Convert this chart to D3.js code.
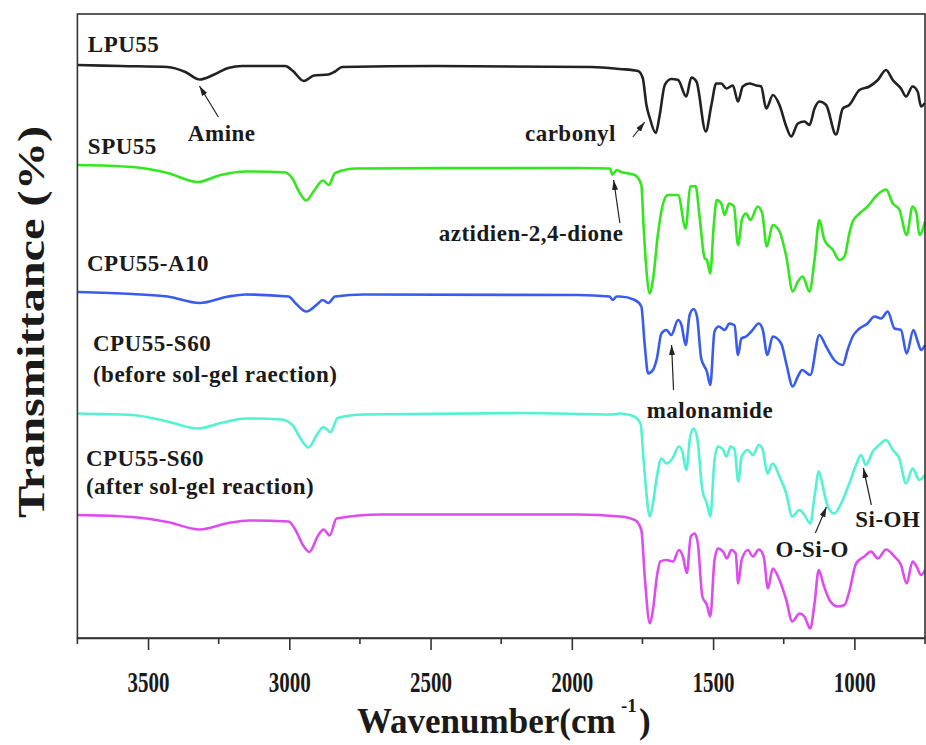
<!DOCTYPE html>
<html>
<head>
<meta charset="utf-8">
<script src="https://cdn.jsdelivr.net/npm/d3@7"></script>
<style>
  body { margin: 0; background: #fff; }
  svg { display: block; }
  text { font-family: "Liberation Serif", "Times New Roman", serif; font-weight: bold; fill: #1a1a1a; }
</style>
</head>
<body>
<svg id="chart" width="926" height="745"></svg>
<script>
// spectra: [wavenumber (cm-1), transmittance (offset, a.u.)]
const lpu55 = [
  [3750,114.6],[3594,114.4],[3431,114.2],[3368,113.2],[3317,111.7],[3266,112.7],[3216,114],[3166,114.4],
  [3014,114.4],[2989,113.5],[2948,111.4],[2913,112.5],[2862,112.7],[2838,113.3],[2813,114.2],[2484,114.4],
  [1929,114.2],[1830,113.8],[1766,113.4],[1749,112],[1736,106.6],[1724,104],[1703,101],[1689,104.6],
  [1671,110.6],[1648,111.8],[1624,111.6],[1595,108.3],[1577,112.1],[1559,111.3],[1526,101.3],[1506,106.6],
  [1489,110.9],[1471,110.9],[1453,109.9],[1430,110.5],[1412,107.3],[1395,110.3],[1371,110.9],[1347,110.5],
  [1330,110.3],[1312,105.9],[1288,108.6],[1265,106.6],[1241,102.3],[1224,100.3],[1200,102.9],[1177,103.3],
  [1159,102.6],[1141,105.9],[1124,107.3],[1100,106.6],[1065,100.7],[1041,105.9],[1018,106.6],[982,109.6],
  [947,110.3],[917,111.6],[888,113.6],[864,111.6],[835,109.9],[817,108.3],[794,110.3],[776,109.3],
  [764,106.3],[750,107]
]
const spu55 = [
  [3750,94.6],[3556,94.2],[3431,93],[3325,91.2],[3243,92.6],[3155,93.3],[3014,93.1],[2989,91.9],
  [2963,89],[2940,87.5],[2913,89.4],[2881,91.5],[2860,90.6],[2838,93],[2762,93.9],[1979,94],
  [1866,93.9],[1856,92.7],[1841,93.6],[1830,93.3],[1777,92.6],[1754,90.6],[1746,82.3],[1736,73.6],
  [1724,68.9],[1713,71.6],[1695,80.9],[1677,86.9],[1660,88.6],[1624,88.6],[1597,81.9],[1581,90.3],
  [1562,90.4],[1548,84.3],[1530,76],[1522,75.6],[1510,72.9],[1498,82.3],[1487,87.6],[1471,86.9],
  [1459,84.6],[1444,86.9],[1426,86.3],[1412,78.6],[1397,83.9],[1383,84.9],[1368,83.6],[1342,86.3],
  [1326,84.9],[1310,78.3],[1289,82.6],[1265,81.3],[1241,76.3],[1218,69.3],[1200,71.3],[1183,72.3],
  [1159,69.3],[1141,75.6],[1124,83.6],[1106,79.6],[1076,77.6],[1053,75.6],[1035,76.3],[1018,80.9],
  [1006,83.3],[982,84.9],[953,86.3],[923,88.4],[888,89.7],[864,86.9],[841,85.7],[815,80.6],
  [794,86.3],[780,84.9],[770,80.6],[750,83.3]
]
const cpu55A10 = [
  [3750,69.2],[3556,68.8],[3431,68.3],[3317,67],[3216,68.3],[3155,68.7],[3003,68.3],[2977,66.9],
  [2940,65.3],[2902,66.7],[2882,67.6],[2862,67],[2838,68.3],[2736,68.7],[1979,68.6],[1866,68.3],
  [1856,67.6],[1841,68.3],[1830,68.3],[1777,67.6],[1754,66.3],[1742,58.6],[1730,52.9],[1713,53.6],
  [1699,55.9],[1683,60.9],[1665,61.6],[1648,60.6],[1624,63.6],[1612,62.6],[1597,58.6],[1583,64.6],
  [1569,65.8],[1557,64.3],[1542,55.9],[1522,53.3],[1510,50.6],[1495,61.3],[1480,62.3],[1459,61.6],
  [1442,62.9],[1424,62.5],[1412,56.6],[1400,59.9],[1383,60.3],[1365,61.3],[1338,62.9],[1324,61.6],
  [1308,56.6],[1289,60.3],[1259,58.9],[1241,54.9],[1218,50.3],[1200,52.3],[1185,53.6],[1156,52.6],
  [1124,60.6],[1100,58.3],[1071,55.6],[1041,54.6],[1024,57.6],[1006,60.3],[982,61.9],[953,62.9],
  [929,64.3],[905,63.9],[882,65.3],[858,61.9],[835,61.6],[815,56.9],[791,61.6],[776,59.3],
  [764,57.6],[750,58.6]
]
const cpu55S60before = [
  [3750,44.9],[3556,44.6],[3431,43.3],[3325,41.9],[3243,43],[3155,43.9],[3028,43.7],[2989,42.6],
  [2958,39.7],[2932,38.1],[2904,40.5],[2879,42.2],[2854,41.2],[2829,44],[2736,44.7],[2170,45],
  [1856,44.7],[1830,44.9],[1783,44.4],[1757,42.9],[1746,35.6],[1736,28.9],[1724,24.3],[1713,26.9],
  [1699,32.3],[1683,35.9],[1665,34.9],[1644,35.9],[1621,38.3],[1609,37.3],[1595,33.6],[1581,40.3],
  [1569,41.9],[1556,39.9],[1538,29.6],[1522,26.9],[1510,24.3],[1495,35.6],[1483,38.3],[1465,37.7],
  [1453,36.3],[1438,38.3],[1424,37.7],[1411,31.3],[1399,36.3],[1377,37.6],[1359,36.6],[1338,38.6],
  [1324,37.6],[1308,32.9],[1289,34.9],[1265,32.3],[1241,28.9],[1220,24.3],[1194,25.6],[1177,24.6],
  [1156,22.9],[1141,28.3],[1126,33.3],[1109,29.6],[1094,26.3],[1071,24.9],[1047,26.9],[1018,30.9],
  [992,34.9],[977,36.6],[959,34.6],[935,37.3],[912,38.6],[888,39.6],[864,37.6],[841,35.9],
  [817,30.9],[794,33.9],[770,31.6],[750,32.6]
]
const cpu55S60after = [
  [3750,24.6],[3556,24.2],[3431,23.2],[3317,21.7],[3216,23],[3142,23.5],[3003,23.3],[2977,21.5],
  [2953,18.7],[2929,17.2],[2898,20.5],[2879,21.7],[2857,20.5],[2833,23.9],[2675,24.7],[1979,24.7],
  [1830,24.3],[1777,23.6],[1754,21.6],[1742,12.3],[1724,2.9],[1713,5.6],[1699,12.3],[1687,15.3],
  [1665,15.6],[1642,15.3],[1621,17.6],[1607,16.3],[1593,13],[1579,20.3],[1565,20.9],[1554,18.9],
  [1538,8.3],[1522,6.6],[1510,4.3],[1495,15.6],[1483,17.9],[1465,17.3],[1451,15.9],[1436,17.6],
  [1420,16.9],[1411,10.9],[1399,15.6],[1377,17.6],[1359,16.3],[1338,17.7],[1321,16.3],[1306,9.9],
  [1289,13.9],[1265,11.6],[1241,7.6],[1220,3.3],[1194,4.9],[1177,4.3],[1156,1.9],[1141,6.9],
  [1126,13.6],[1109,10.6],[1088,7.6],[1059,6.3],[1035,6.6],[1018,9.3],[994,14.9],[965,16.3],
  [941,17.3],[917,15.9],[888,17.7],[858,16.3],[835,14.6],[815,10.9],[794,15.3],[780,14.3],
  [764,12.6],[750,13.6]
]

const series = [
  { name: "LPU55", data: lpu55, color: "#222222" },
  { name: "SPU55", data: spu55, color: "#33e620" },
  { name: "CPU55-A10", data: cpu55A10, color: "#3a5cec" },
  { name: "CPU55-S60 before", data: cpu55S60before, color: "#52f2d2" },
  { name: "CPU55-S60 after", data: cpu55S60after, color: "#de4cf0" }
]

const majorTicks = [3500, 3000, 2500, 2000, 1500, 1000]
const minorTicks = [3750, 3250, 2750, 2250, 1750, 1250, 750]

// text labels, placed at [wavenumber, transmittance]
const labels = [
  { text: "LPU55", wn: 3713, t: 117.2 },
  { text: "Amine", wn: 3359, t: 99.4 },
  { text: "SPU55", wn: 3713, t: 96.8 },
  { text: "carbonyl", wn: 2166, t: 99.4 },
  { text: "aztidien-2,4-dione", wn: 2471, t: 79.4 },
  { text: "CPU55-A10", wn: 3716, t: 73.4 },
  { text: "CPU55-S60", wn: 3695, t: 57.4 },
  { text: "(before sol-gel raection)", wn: 3695, t: 51.2 },
  { text: "CPU55-S60", wn: 3720, t: 34.4 },
  { text: "(after sol-gel reaction)", wn: 3720, t: 28.8 },
  { text: "malonamide", wn: 1735, t: 44 },
  { text: "O-Si-O", wn: 1279, t: 16.2 },
  { text: "Si-OH", wn: 997, t: 22.2 }
]

// arrows: from [wn, t] to [wn, t]
const arrows = [
  { from: [3251, 104.2], to: [3318, 110.4] },
  { from: [1784, 100.2], to: [1742, 103.2] },
  { from: [1830, 83], to: [1852, 91.6] },
  { from: [1640, 49.6], to: [1647, 58.6] },
  { from: [940, 26.6], to: [968, 34] },
  { from: [1138, 21], to: [1099, 26.2] }
]

const plotLeft = 77.4, plotRight = 925, plotTop = 14, plotBottom = 638
const svg = d3.select("#chart")

const x = d3.scaleLinear().domain([3750, 750]).range([plotLeft, plotRight])
const y = d3.scaleLinear().domain([0, 124.8]).range([plotBottom, plotTop])

const line = d3.line()
  .x(d => x(d[0]))
  .y(d => y(d[1]))
  .curve(d3.curveMonotoneX)

svg.append("defs").append("marker")
  .attr("id", "head")
  .attr("viewBox", "0 0 10 6")
  .attr("refX", 10).attr("refY", 3)
  .attr("markerWidth", 10).attr("markerHeight", 6)
  .attr("markerUnits", "userSpaceOnUse")
  .attr("orient", "auto")
  .append("path")
  .attr("d", "M0,0 L10,3 L0,6 Z")
  .attr("fill", "#222")

const plot = svg.append("g")
plot.selectAll("path.trace")
  .data(series)
  .join("path")
  .attr("class", "trace")
  .attr("d", d => line(d.data))
  .attr("fill", "none")
  .attr("stroke", d => d.color)
  .attr("stroke-width", 2.6)
  .attr("stroke-linejoin", "round")

// frame
svg.append("rect")
  .attr("x", plotLeft).attr("y", plotTop)
  .attr("width", plotRight - plotLeft).attr("height", plotBottom - plotTop)
  .attr("fill", "none")
  .attr("stroke", "#333")
  .attr("stroke-width", 1.6)

const xAxis = svg.append("g")
  .attr("transform", `translate(0,${plotBottom})`)
  .call(d3.axisBottom(x).tickValues(majorTicks).tickSize(12).tickSizeOuter(0).tickFormat(d3.format("d")))
xAxis.select(".domain").attr("stroke", "#333").attr("stroke-width", 1.6)
xAxis.selectAll(".tick line").attr("stroke", "#333").attr("stroke-width", 1.6)
// the original lettering is narrow and tall
xAxis.selectAll(".tick text")
  .attr("y", 54).attr("dy", null)
  .attr("font-size", 29)
  .attr("font-family", "Liberation Serif")
  .attr("font-weight", "bold")
  .attr("fill", "#1a1a1a")
  .attr("textLength", 42)
  .attr("lengthAdjust", "spacingAndGlyphs")

svg.append("g")
  .attr("transform", `translate(0,${plotBottom})`)
  .selectAll("line")
  .data(minorTicks)
  .join("line")
  .attr("x1", d => x(d)).attr("x2", d => x(d))
  .attr("y1", 0).attr("y2", 6)
  .attr("stroke", "#333").attr("stroke-width", 1.6)

// axis titles
svg.append("text")
  .attr("x", 357).attr("y", 733)
  .attr("font-size", 35)
  .text("Wavenumber(cm")
svg.append("text")
  .attr("x", 621).attr("y", 712)
  .attr("font-size", 19)
  .text("-1")
svg.append("text")
  .attr("x", 639).attr("y", 733)
  .attr("font-size", 35)
  .text(")")

svg.append("text")
  .attr("transform", "translate(44,322) rotate(-90)")
  .attr("text-anchor", "middle")
  .attr("font-size", 38)
  .attr("textLength", 392)
  .attr("lengthAdjust", "spacingAndGlyphs")
  .text("Transmittance (%)")

// annotations
svg.append("g").selectAll("text")
  .data(labels)
  .join("text")
  .attr("x", d => x(d.wn))
  .attr("y", d => y(d.t))
  .attr("font-size", 23)
  .attr("letter-spacing", 0.5)
  .text(d => d.text)

svg.append("g").selectAll("line")
  .data(arrows)
  .join("line")
  .attr("x1", d => x(d.from[0])).attr("y1", d => y(d.from[1]))
  .attr("x2", d => x(d.to[0])).attr("y2", d => y(d.to[1]))
  .attr("stroke", "#222")
  .attr("stroke-width", 1.2)
  .attr("marker-end", "url(#head)")
</script>
</body>
</html>
